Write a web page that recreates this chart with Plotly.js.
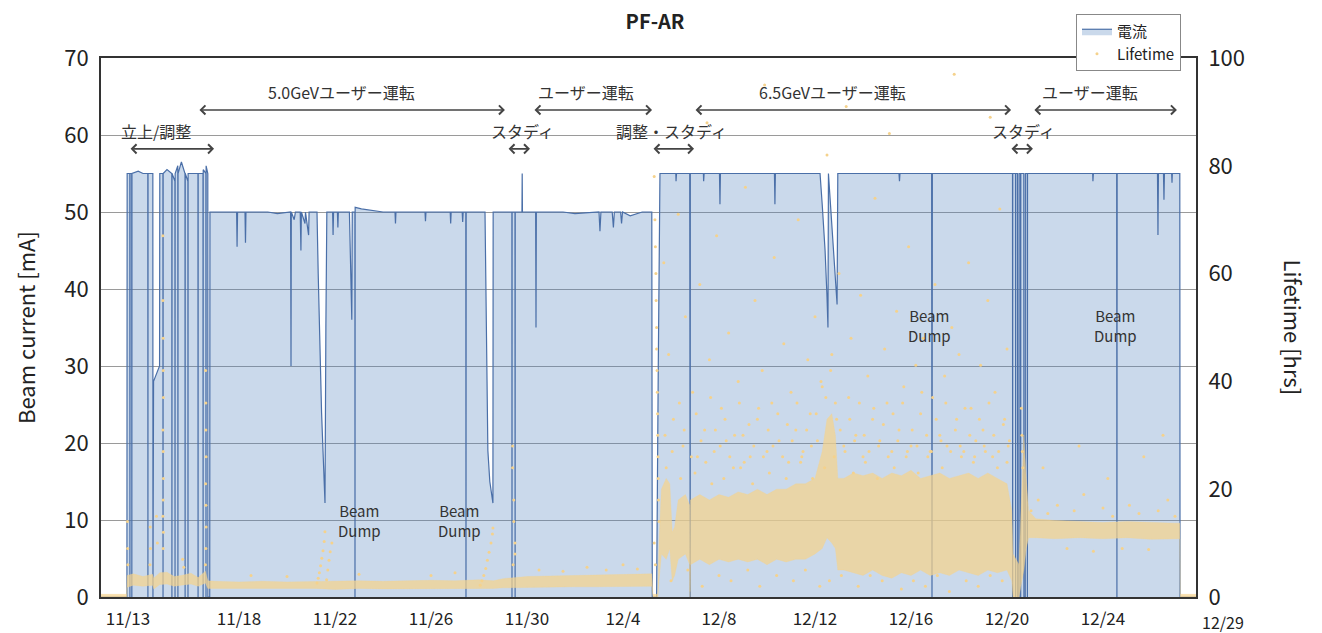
<!DOCTYPE html>
<html>
<head>
<meta charset="utf-8">
<script src="https://cdn.plot.ly/plotly-3.0.1.min.js"></script>
<style>
  html, body { margin: 0; padding: 0; background: #ffffff; }
  #chart { width: 1322px; height: 633px; }
</style>
</head>
<body>
<div id="chart"></div>
<script>
// ---- time unit: days since 2019-11-12 00:00 ----
const START_UTC = Date.UTC(2019, 10, 12);

// x tick positions (days) and labels
const tickDays   = [1.375, 6, 10, 14, 18, 22, 26, 30, 34, 38, 42];
const tickLabels = ['11/13', '11/18', '11/22', '11/26', '11/30', '12/4', '12/8', '12/12', '12/16', '12/20', '12/24'];
const lastTickLabel = '12/29';

// Beam current [mA]: [day, mA]
const beamCurrent = [
  // before start / startup & tuning
  [0.25,0],[1.32,0],[1.33,0],[1.34,55],[1.45,55],[1.455,0],[1.46,55],[1.53,55],[1.535,0],[1.54,55],
  [1.80,55.3],[2.00,55],[2.20,55],[2.205,0],[2.21,55],[2.41,55],[2.415,0],[2.44,28],[2.69,30],[2.70,55],
  [2.83,55],[2.835,0],[2.84,55],[3.00,55.5],[3.20,55],[3.205,0],[3.21,55],[3.33,54],[3.335,0],[3.34,55],
  [3.45,56],[3.455,0],[3.46,55],[3.60,56.5],[3.75,55],[3.755,0],[3.76,55],[3.87,54],[3.875,0],[3.88,55],
  [4.00,55],[4.29,55],[4.295,0],[4.30,55],[4.50,55],[4.505,0],[4.51,55.5],[4.62,55],[4.625,0],[4.63,56],
  [4.70,55],[4.705,0],[4.78,0],
  // 5.0 GeV user run
  [4.79,50],[5.5,50],[5.9,50],[5.92,45.5],[5.94,50],[6.25,50],[6.27,46],[6.29,50],[7.2,50],[7.6,49.8],
  [8.15,50],[8.167,30],[8.18,50],[8.3,49],[8.35,50],[8.55,50],[8.58,45],[8.6,50],[8.75,48.5],[8.77,50],
  [8.9,47],[8.92,50],[9.25,50],
  [9.30,42],[9.375,31],[9.44,24],[9.5,19],[9.583,12.2],[9.62,35],[9.66,50],
  [9.9,50],[9.92,47],[9.94,50],[10.1,50],[10.12,48],[10.14,50],[10.6,50],[10.66,42],[10.70,36],[10.72,50],
  [10.83,50],[10.833,0],[10.84,50.6],[11.1,50.4],[11.5,50.2],[12.0,50],[12.5,50],[12.52,48.5],[12.54,50],
  [13.75,50],[13.77,48.8],[13.79,50],[14.8,50],[14.82,48.5],[14.84,50],[15.3,50],[15.32,48.7],[15.34,50],
  [15.45,50],[15.458,0],[15.466,50],[16.25,50],
  [16.27,44],[16.30,36.4],[16.37,19],[16.45,15],[16.55,13],[16.58,12.2],[16.59,50],
  // study + user run
  [17.37,50],[17.375,0],[17.38,50],[17.5,50],[17.505,0],[17.51,50],[17.79,50],[17.80,55],[17.81,50],
  [18.36,50],[18.375,35],[18.39,50],[19.5,50],[20.0,49.8],[21.0,50],[21.04,47.5],[21.08,50],[21.55,50],
  [21.6,48],[21.64,50],[21.9,50],[21.94,48.5],[21.98,50],[22.3,49.5],[22.8,50],[23.2,50],[23.22,0],[23.40,0],
  [23.47,30],[23.54,55],
  // 6.5 GeV user run
  [23.9,55],[24.2,55],[24.21,54],[24.23,55],[24.78,55],[24.785,0],[24.80,0],[24.805,55],[25.35,55],[25.36,54],
  [25.38,55],[26.02,55],[26.04,51],[26.06,55],[27.0,55],[28.31,55],[28.33,51],[28.35,55],[29.5,55],[30.21,55],
  [30.3,51],[30.42,45],[30.5,39],[30.54,35],[30.56,55],[30.65,51],[30.78,45],[30.92,38],[30.95,55],[31.5,55],
  [33.0,55],[33.5,55],[33.52,54],[33.54,55],[34.86,55],[34.875,0],[34.89,55],[36.0,55],[37.5,55],
  // study
  [38.23,55],[38.236,0],[38.24,55],[38.355,55],[38.36,0],[38.365,55],[38.44,55],[38.445,0],[38.50,0],[38.505,55],
  [38.565,55],[38.57,0],[38.575,55],[38.70,55],[38.705,0],[38.76,0],[38.765,55],[38.845,55],[38.85,0],[38.855,55],
  // user run
  [39.5,55],[41.57,55],[41.58,54],[41.6,55],[42.57,55],[42.58,0],[42.59,55],[43.5,55],[44.27,55],[44.29,47],
  [44.31,55],[44.52,55],[44.54,51.6],[44.56,55],[44.86,55],[44.875,53.8],[44.89,55],[45.2,55],[45.21,0],[45.875,0]
];

// Lifetime dense core [hrs]: [day, low, high]
const lifetimeCore = [
  [0.25,0,0.5],[1.32,0,0.5],[1.34,1.8,4.0],[1.6,2.2,4.3],[2.0,2.0,3.8],[2.4,2.2,4.2],[2.45,1.5,3.5],[2.7,2.3,4.5],
  [3.0,2.4,4.6],[3.3,2.0,3.8],[3.6,2.2,4.0],[4.0,2.4,4.4],[4.3,2.0,3.6],[4.6,2.6,4.8],[4.7,1.6,3.0],[5.0,1.6,2.9],
  [6.0,1.5,2.8],[7.0,1.6,2.9],[8.0,1.5,2.8],[9.2,1.6,2.9],[10.0,1.4,3.0],[11.0,1.6,3.0],[12.0,1.5,2.9],[13.0,1.5,3.0],
  [14.0,1.6,3.1],[15.0,1.5,3.0],[16.0,1.6,3.2],[16.6,1.6,3.0],[17.0,1.7,3.4],[18.0,1.8,3.8],[19.0,1.8,3.9],
  [20.0,1.9,4.0],[21.0,1.9,4.1],[22.0,2.0,4.2],[23.2,2.0,4.3],[23.25,0,0.5],[23.45,0,0.5],[23.5,3,10],[23.6,8,20],
  [23.8,7,22],[23.95,9,21],[24.05,3,12],[24.15,4,13],[24.3,7,18],[24.6,8,19],[24.78,6,17],[24.79,0,1],[24.81,6,18],
  [25.2,7,19],[25.6,6,18],[26.0,7,19],[26.4,6.5,18.5],[26.8,7,19.5],[27.2,6.5,19],[27.6,7,20],[28.0,6,19],
  [28.4,7,20],[28.8,6.5,20],[29.2,7,21],[29.6,7,21],[30.0,8,22],[30.3,9,27],[30.5,11,33],[30.7,10,34],
  [30.85,9,30],[30.95,5,22],[31.2,5,22],[31.6,4.5,23],[32.0,4,22.5],[32.4,5,23],[32.8,4,22],[33.2,3.5,23],
  [33.6,4.5,22.5],[34.0,4,23.5],[34.4,5,22],[34.8,4,22.5],[35.2,4.5,23],[35.6,4,22],[36.0,5,22.5],[36.4,4.5,23],
  [36.8,4,22],[37.2,5,23],[37.6,4.5,22],[38.0,5,21],[38.2,3,16],[38.25,0,8],[38.5,0,6],[38.7,5,30],[38.8,9,22],
  [38.9,11,16],[39.2,11,14.5],[40.0,10.8,14.2],[41.0,11,14],[42.0,10.8,13.8],[43.0,11,14],[44.0,10.7,13.8],
  [45.0,10.8,13.7],[45.2,10.8,13.7],[45.22,0,0.5],[45.875,0,0.5]
];

// Lifetime individual samples outside the dense core [hrs]: [day, hrs]
const lifetimeDots = [
  // startup spikes
  [1.35,14],[1.36,9],[1.37,6],[2.29,6],[2.3,13],[2.31,9],[2.56,15],[2.6,10],[2.83,67],[2.83,55],[2.84,48],[2.84,42],
  [2.85,37],[2.83,31],[2.84,27],[2.85,22],[2.84,18],[2.83,15],[2.85,12],[2.84,9],[3.65,7],[3.7,5.5],[4.61,42],
  [4.62,36],[4.62,31],[4.63,26],[4.61,21],[4.62,17],[4.63,13],[4.62,9],[4.6,6],
  // beam dumps in 5.0 GeV run
  [9.25,2.6],[9.3,3.5],[9.35,4.5],[9.4,5.8],[9.45,7.2],[9.5,8.6],[9.55,10.3],[9.58,12.1],
  [9.65,3.2],[9.7,5],[9.75,6.8],[9.8,8.4],[9.87,10],
  [16.05,2.2],[16.12,3],[16.2,4],[16.28,5.3],[16.35,6.8],[16.42,8.3],[16.5,10],[16.56,11.7],[16.58,12.8],
  [6.5,4],[8,3.8],[11,4.2],[14,4],[15,4.5],[18.5,5],[19.5,4.8],[20.5,5.5],[21.3,5],[22,6],[22.6,5.2],
  [17.4,28],[17.4,24],[17.45,18],[17.45,14],[17.5,10],[17.5,8],[17.42,6],
  // tuning / study before 6.5 GeV
  [23.3,78],[23.33,70],[23.35,65],[23.37,60],[23.38,55],[23.4,50],[23.4,46],[23.42,42],[23.43,38],[23.44,34],
  [23.45,30],[23.46,26],[23.47,22],[23.48,18],[23.5,14],[23.3,10],[23.35,6],
  // 6.5 GeV run, sparse high values
  [23.7,62],[23.9,45],[24.1,33],[24.3,71],[24.5,28],[24.6,52],[24.9,38],[25.1,26],[25.2,58],[25.4,31],[25.6,44],
  [25.8,27],[25.9,67],[26.1,35],[26.3,29],[26.4,49],[26.6,24],[26.8,40],[27.0,30],[27.1,76],[27.3,26],[27.5,55],
  [27.6,33],[27.8,42],[28.0,27],[28.2,36],[28.3,63],[28.5,29],[28.7,47],[28.9,25],[29.0,38],[29.2,31],[29.3,70],
  [29.5,27],[29.7,44],[29.8,34],[30.0,52],[30.1,29],[30.3,39],[30.5,82],[30.7,45],[30.9,33],[31.0,60],[31.2,28],
  [31.4,37],[31.5,48],[31.7,30],[31.9,56],[32.0,26],[32.2,41],[32.4,33],[32.5,74],[32.7,29],[32.9,46],[33.0,36],
  [33.2,27],[33.4,53],[33.5,31],[33.7,39],[33.9,65],[34.0,28],[34.2,43],[34.4,34],[34.5,48],[34.7,26],[34.9,37],
  [35.0,58],[35.2,30],[35.4,41],[35.5,28],[35.7,50],[35.9,33],[36.0,45],[36.2,27],[36.4,62],[36.5,35],[36.7,29],
  [36.9,43],[37.0,31],[37.2,55],[37.4,26],[37.5,38],[37.7,72],[37.9,33],[38.0,46],[38.1,29],
  [25.5,88],[27.9,95],[31.3,91],[33.1,86],[35.8,97],[37.3,89],
  [23.75,30],[24.05,27],[24.35,36],[24.55,31],[24.85,26],[25.05,34],[25.25,29],[25.45,25],[25.65,37],[25.85,31],
  [26.05,28],[26.25,33],[26.45,26],[26.65,30],[26.85,36],[27.05,25],[27.25,32],[27.45,28],[27.65,35],[27.85,26],
  [28.05,31],[28.25,28],[28.45,34],[28.65,26],[28.85,32],[29.05,29],[29.25,36],[29.45,26],[29.65,31],[29.85,28],
  [30.05,34],[30.25,40],[30.45,37],[30.65,42],[30.85,36],[31.05,31],[31.25,27],[31.45,33],[31.65,29],[31.85,36],
  [32.05,30],[32.25,27],[32.45,35],[32.65,28],[32.85,32],[33.05,26],[33.25,34],[33.45,29],[33.65,36],[33.85,27],
  [34.05,31],[34.25,28],[34.45,38],[34.65,30],[34.85,27],[35.05,33],[35.25,29],[35.45,36],[35.65,27],[35.85,31],
  [36.05,28],[36.25,35],[36.45,30],[36.65,26],[36.85,33],[37.05,28],[37.25,36],[37.45,30],[37.65,27],[37.85,32],
  [38.05,28],
  // 6.5 GeV run, just outside the core
  [23.8,24],[24.0,3],[24.4,22],[24.7,5],[25.0,23],[25.3,2],[25.7,21],[26.0,4],[26.2,22],[26.5,3],[26.9,24],
  [27.2,5],[27.4,21],[27.7,2],[28.1,23],[28.4,4],[28.8,22],[29.1,3],[29.4,25],[29.6,5],[29.9,22],[30.2,2],
  [30.4,24],[30.6,3],[30.8,26],[31.1,4],[31.6,23],[31.8,2],[32.1,25],[32.3,4],[32.6,22],[32.8,3],[33.3,24],
  [33.6,1.5],[33.8,26],[34.1,3],[34.3,23],[34.6,2],[34.8,27],[35.1,4],[35.3,24],[35.6,1],[36.1,26],[36.3,3],
  [36.6,25],[36.8,2],[37.1,27],[37.3,4],[37.6,24],[37.8,3],[38.0,25],
  // study spike + last user run
  [38.6,35],[38.62,30],[38.64,27],[38.66,24],
  [39.0,16],[39.3,18],[39.7,15.5],[40.1,17],[40.5,9],[40.8,16],[41.2,19],[41.6,8.5],[42.0,16.5],[42.4,15],
  [42.8,9],[43.1,17],[43.5,15.5],[43.9,8.8],[44.3,16],[44.7,18],[45.0,15],[39.5,24],[41.0,28],[42.2,22],
  [43.7,26],[44.5,30]
];

// ---- helpers ----
function dayToDate(d) {
  return new Date(START_UTC + Math.round(d * 86400000)).toISOString().slice(0, 19).replace('T', ' ');
}

const FONT = '"Noto Sans CJK JP", "Noto Sans", sans-serif';
const CUR_LINE = '#4a6fa8';
const CUR_FILL = 'rgba(79,129,189,0.30)';
const LT_COLOR = '#f5d28c';

const traces = [
  {
    name: '電流', type: 'scatter', mode: 'lines', legendgroup: 'cur',
    x: beamCurrent.map(p => dayToDate(p[0])), y: beamCurrent.map(p => p[1]),
    line: { color: CUR_LINE, width: 1.2 }, fill: 'tozeroy', fillcolor: CUR_FILL,
    xaxis: 'x', yaxis: 'y'
  },
  {
    name: 'Lifetime core low', type: 'scatter', mode: 'lines', showlegend: false, hoverinfo: 'skip',
    x: lifetimeCore.map(p => dayToDate(p[0])), y: lifetimeCore.map(p => p[1]),
    line: { color: 'rgba(245,210,140,0.6)', width: 0.5 }, xaxis: 'x', yaxis: 'y2'
  },
  {
    name: 'Lifetime core high', type: 'scatter', mode: 'lines', showlegend: false, hoverinfo: 'skip',
    x: lifetimeCore.map(p => dayToDate(p[0])), y: lifetimeCore.map(p => p[2]),
    line: { color: 'rgba(245,210,140,0.6)', width: 0.5 }, fill: 'tonexty', fillcolor: 'rgba(245,210,140,0.72)',
    xaxis: 'x', yaxis: 'y2'
  },
  {
    name: 'Lifetime', type: 'scatter', mode: 'markers', legendgroup: 'lt',
    x: lifetimeDots.map(p => dayToDate(p[0])), y: lifetimeDots.map(p => p[1]),
    marker: { color: LT_COLOR, size: 3 }, xaxis: 'x', yaxis: 'y2'
  }
];

function arrow(d1, d2, y) {
  return {
    x: dayToDate(d2), y: y, ax: dayToDate(d1), ay: y,
    xref: 'x', yref: 'y', axref: 'x', ayref: 'y',
    text: '', showarrow: true, arrowside: 'end+start',
    arrowhead: 4, arrowsize: 1.1, arrowwidth: 1.6, arrowcolor: '#444'
  };
}
function label(d, y, text, size) {
  return {
    x: dayToDate(d), y: y, xref: 'x', yref: 'y', text: text, showarrow: false,
    font: { family: FONT, size: size || 16, color: '#333' }, xanchor: 'center', yanchor: 'middle'
  };
}

const ROW1_ARROW = 63.25, ROW1_TEXT = 65.6, ROW2_ARROW = 58.2, ROW2_TEXT = 60.5;

const annotations = [
  label(10.25, ROW1_TEXT, '5.0GeVユーザー運転'), arrow(4.29, 17.08, ROW1_ARROW),
  label(20.46, ROW1_TEXT, 'ユーザー運転'), arrow(18.25, 23.21, ROW1_ARROW),
  label(2.55, ROW2_TEXT, '立上/調整'), arrow(1.42, 4.96, ROW2_ARROW),
  label(17.83, ROW2_TEXT, 'スタディ'), arrow(17.17, 18.125, ROW2_ARROW),
  label(24.0, ROW2_TEXT, '調整・スタディ'), arrow(23.21, 24.96, ROW2_ARROW),
  label(30.71, ROW1_TEXT, '6.5GeVユーザー運転'), arrow(24.96, 38.17, ROW1_ARROW),
  label(41.46, ROW1_TEXT, 'ユーザー運転'), arrow(39.08, 45.08, ROW1_ARROW),
  label(38.67, ROW2_TEXT, 'スタディ'), arrow(38.125, 39.08, ROW2_ARROW),
  label(11.04, 10, 'Beam<br>Dump', 15),
  label(15.17, 10, 'Beam<br>Dump', 15),
  label(34.79, 35.3, 'Beam<br>Dump', 15),
  label(42.54, 35.3, 'Beam<br>Dump', 15),
  {
    x: 1.0247, y: -0.047, xref: 'paper', yref: 'paper', text: lastTickLabel, showarrow: false,
    font: { family: FONT, size: 16, color: '#222' }, xanchor: 'center', yanchor: 'middle'
  },
  {
    x: 1.0895, y: 0.5, xref: 'paper', yref: 'paper', text: 'Lifetime [hrs]', showarrow: false,
    textangle: 90, font: { family: FONT, size: 22, color: '#222' }, xanchor: 'center', yanchor: 'middle'
  }
];

const layout = {
  width: 1322, height: 633,
  margin: { l: 101, r: 126, t: 58, b: 36 },
  paper_bgcolor: '#ffffff', plot_bgcolor: '#ffffff',
  font: { family: FONT, color: '#222' },
  title: { text: '<b>PF-AR</b>', font: { family: FONT, size: 20, color: '#222' },
           x: 0.4955, xanchor: 'center', y: 0.965, yanchor: 'middle' },
  showlegend: true,
  legend: {
    x: 0.8904, y: 1.0816, xanchor: 'left', yanchor: 'top', traceorder: 'normal', tracegroupgap: 6,
    bgcolor: '#ffffff', bordercolor: '#888888', borderwidth: 1,
    font: { family: FONT, size: 15, color: '#222' }
  },
  xaxis: {
    type: 'date', range: [dayToDate(0.25), dayToDate(45.875)],
    tickmode: 'array', tickvals: tickDays.map(dayToDate), ticktext: tickLabels,
    showgrid: false, zeroline: false, showline: true, mirror: true, linecolor: '#333', linewidth: 2,
    ticks: 'outside', ticklen: 6, tickcolor: 'rgba(0,0,0,0)',
    tickfont: { family: FONT, size: 17, color: '#222' }
  },
  yaxis: {
    range: [0, 70], dtick: 10, tick0: 0,
    showgrid: true, gridcolor: '#9a9a9a', gridwidth: 1, zeroline: false,
    showline: true, linecolor: '#333', linewidth: 2,
    ticks: 'outside', ticklen: 6, tickcolor: 'rgba(0,0,0,0)',
    tickfont: { family: FONT, size: 22, color: '#222' },
    title: { text: 'Beam current [mA]', font: { family: FONT, size: 22, color: '#222' }, standoff: 22 }
  },
  yaxis2: {
    overlaying: 'y', side: 'right', range: [0, 100], tickvals: [0, 20, 40, 60, 80, 100],
    showgrid: false, zeroline: false, showline: true, linecolor: '#333', linewidth: 2,
    ticks: 'outside', ticklen: 6, tickcolor: 'rgba(0,0,0,0)',
    tickfont: { family: FONT, size: 22, color: '#222' }
  },
  annotations: annotations
};

Plotly.newPlot('chart', traces, layout, { displayModeBar: false, responsive: false, staticPlot: true });
</script>
</body>
</html>
